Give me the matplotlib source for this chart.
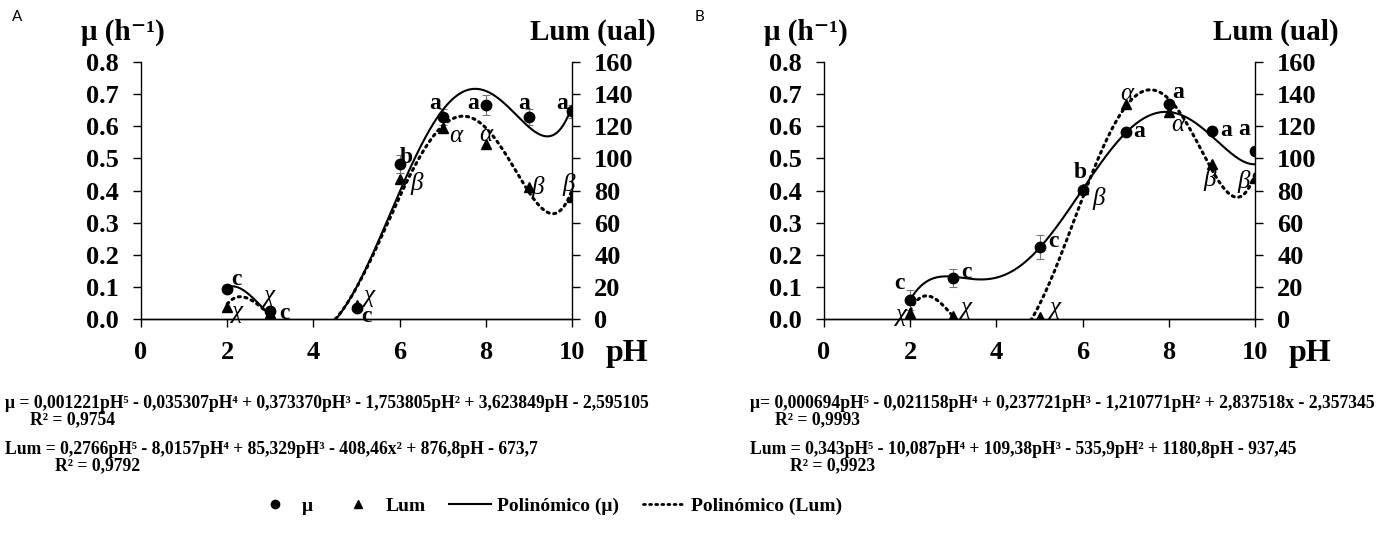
import numpy as np
import matplotlib
matplotlib.use("Agg")
from matplotlib import pyplot as plt
from matplotlib.lines import Line2D

SERIF = ['Liberation Serif', 'DejaVu Serif']
plt.rcParams['font.family'] = SERIF
plt.rcParams['font.weight'] = 'bold'

# ---- data, panel A ----
ph_A = [2, 3, 5, 6, 7, 8, 9, 10]
mu_A = [0.093, 0.026, 0.034, 0.482, 0.628, 0.666, 0.628, 0.646]
mu_err_A = [0.01, 0.01, 0.01, 0.027, 0.025, 0.03, 0.025, 0.02]
lum_A = [7.7, 4.0, 8.7, 87.0, 118.7, 109.0, 82.0, 76.0]
mu_let_A = ['c', 'c', 'c', 'b', 'a', 'a', 'a', 'a']
lum_let_A = ['χ', 'χ', 'χ', 'β', 'α', 'α', 'β', 'β']
# trendline coefficients printed on the chart (highest power first)
mu_poly_A = [0.001221, -0.035307, 0.373370, -1.753805, 3.623849, -2.595105]
lum_poly_A = [0.2766, -8.0157, 85.329, -408.46, 876.8, -673.7]

# ---- data, panel B ----
ph_B = [2, 3, 5, 6, 7, 8, 9, 10]
mu_B = [0.059, 0.127, 0.225, 0.402, 0.583, 0.669, 0.586, 0.524]
mu_err_B = [0.03, 0.028, 0.038, 0.01, 0.01, 0.01, 0.01, 0.01]
lum_B = [3.5, 2.0, 1.0, 81.0, 134.0, 129.0, 96.5, 88.0]
mu_let_B = ['c', 'c', 'c', 'b', 'a', 'a', 'a', 'a']
lum_let_B = ['χ', 'χ', 'χ', 'β', 'α', 'α', 'β', 'β']
mu_poly_B = [0.000694, -0.021158, 0.237721, -1.210771, 2.837518, -2.357345]
lum_poly_B = [0.343, -10.087, 109.38, -535.9, 1180.8, -937.45]

eq_A = ['μ = 0,001221pH⁵ - 0,035307pH⁴ + 0,373370pH³ - 1,753805pH² + 3,623849pH - 2,595105',
        'R² = 0,9754',
        'Lum = 0,2766pH⁵ - 8,0157pH⁴ + 85,329pH³ - 408,46x² + 876,8pH - 673,7',
        'R² = 0,9792']
eq_B = ['μ= 0,000694pH⁵ - 0,021158pH⁴ + 0,237721pH³ - 1,210771pH² + 2,837518x - 2,357345',
        'R² = 0,9993',
        'Lum = 0,343pH⁵ - 10,087pH⁴ + 109,38pH³ - 535,9pH² + 1180,8pH - 937,45',
        'R² = 0,9923']

# label offsets in pixels (dx, dy)
mu_off_A = [(9, 10), (14, -3), (10, -8), (7, 7), (-8, 14), (-13, 2), (-5, 14), (-10, 8)]
lum_off_A = [(10, -5), (-1, 17), (13, 9), (17, -4), (13, -8), (0, 9), (9, 0), (-3, 12)]
mu_off_B = [(-11, 17), (13, 6), (14, 5), (-2, 17), (13, 0), (9, 12), (14, 0), (-11, 21)]
lum_off_B = [(-9, -2), (13, 8), (16, 9), (16, -10), (1, 10), (9, -13), (-2, -16), (-11, -4)]

W, H = 1385, 533
fig = plt.figure(figsize=(W / 100, H / 100), dpi=100)


def panel(left, ph, mu, err, lum, mu_let, lum_let, mu_poly, lum_poly, mu_off, lum_off, tag):
    ax = fig.add_axes([left / W, 1 - 319 / H, 431 / W, 257 / H])
    ax2 = ax.twinx()
    xs = np.linspace(2, 10, 400)
    ax.plot(xs, np.polyval(mu_poly, xs), color='black', lw=1.5, zorder=3)
    ax.errorbar(ph, mu, yerr=err, fmt='none', ecolor='#777777', elinewidth=0.8,
                capsize=3, capthick=0.8, zorder=2)
    ax.plot(ph, mu, 'o', color='black', ms=7.5, zorder=4)
    ax2.plot(xs, np.polyval(lum_poly, xs), color='black', lw=2.2,
             linestyle=(0, (0.7, 1.5)), dash_capstyle='round', zorder=3)
    ax2.plot(ph, lum, '^', color='black', ms=7.5, zorder=4)

    for x, y, t, o in zip(ph, mu, mu_let, mu_off):
        ax.annotate(t, (x, y), xytext=o, textcoords='offset pixels', ha='center',
                    va='center', fontsize=17, fontweight='bold', zorder=6)
    for x, y, t, o in zip(ph, lum, lum_let, lum_off):
        ax2.annotate(t, (x, y), xytext=o, textcoords='offset pixels', ha='center',
                     va='center', fontsize=18, fontstyle='italic', fontweight='normal', zorder=6)

    ax.set_xlim(0, 10)
    ax.set_ylim(0, 0.8)
    ax2.set_ylim(0, 160)
    ax.set_xticks(range(0, 11, 2))
    ax.set_yticks(np.arange(0, 0.81, 0.1))
    ax.set_yticklabels(['%.1f' % v for v in np.arange(0, 0.81, 0.1)])
    ax2.set_yticks(range(0, 161, 20))
    for a in (ax, ax2):
        a.spines['top'].set_visible(False)
        for s in a.spines.values():
            s.set_linewidth(1.0)
    ax2.spines['left'].set_visible(False)
    ax.spines['right'].set_visible(False)
    ax.tick_params(axis='x', direction='out', length=6, width=1, pad=10, labelsize=19)
    ax.tick_params(axis='y', direction='out', length=6, width=1, pad=10, labelsize=19)
    ax2.tick_params(axis='y', direction='out', length=6, width=1, pad=10, labelsize=19)
    for lab in ax.get_xticklabels() + ax.get_yticklabels() + ax2.get_yticklabels():
        lab.set_fontweight('bold')

    fig.text((left - 18) / W, 1 - 32 / H, 'μ (h⁻¹)', ha='center', va='center',
             fontsize=21, fontweight='bold')
    fig.text((left + 452) / W, 1 - 32 / H, 'Lum (ual)', ha='center', va='center',
             fontsize=21, fontweight='bold')
    fig.text((left + 486) / W, 1 - 354 / H, 'pH', ha='center', va='center',
             fontsize=23, fontweight='bold')
    fig.text((left - 124) / W, 1 - 17 / H, tag, ha='center', va='center',
             fontsize=11, fontweight='normal', family=['Lato', 'DejaVu Sans'])
    return ax, ax2


panel(141, ph_A, mu_A, mu_err_A, lum_A, mu_let_A, lum_let_A, mu_poly_A, lum_poly_A,
      mu_off_A, lum_off_A, 'A')
panel(824, ph_B, mu_B, mu_err_B, lum_B, mu_let_B, lum_let_B, mu_poly_B, lum_poly_B,
      mu_off_B, lum_off_B, 'B')

# trendline equations
eq_fs = 12.7
fig.text(5 / W, 1 - 403 / H, eq_A[0], va='center', fontsize=eq_fs, fontweight='bold')
fig.text(30 / W, 1 - 420 / H, eq_A[1], va='center', fontsize=eq_fs, fontweight='bold')
fig.text(5 / W, 1 - 450 / H, eq_A[2], va='center', fontsize=eq_fs, fontweight='bold')
fig.text(55 / W, 1 - 466 / H, eq_A[3], va='center', fontsize=eq_fs, fontweight='bold')
fig.text(750 / W, 1 - 403 / H, eq_B[0], va='center', fontsize=eq_fs, fontweight='bold')
fig.text(775 / W, 1 - 420 / H, eq_B[1], va='center', fontsize=eq_fs, fontweight='bold')
fig.text(750 / W, 1 - 450 / H, eq_B[2], va='center', fontsize=eq_fs, fontweight='bold')
fig.text(790 / W, 1 - 466 / H, eq_B[3], va='center', fontsize=eq_fs, fontweight='bold')

handles = [Line2D([], [], marker='o', color='black', ls='none', ms=6),
           Line2D([], [], marker='^', color='black', ls='none', ms=6),
           Line2D([], [], color='black', lw=1.5),
           Line2D([], [], color='black', lw=2, linestyle=(0, (0.7, 1.5)), dash_capstyle='round')]
fig.legend(handles, ['μ', 'Lum', 'Polinómico (μ)', 'Polinómico (Lum)'], ncol=4,
           loc='center', bbox_to_anchor=(548 / W, 1 - 506 / H), frameon=False,
           prop={'family': SERIF, 'weight': 'bold', 'size': 14},
           handlelength=2.2, handletextpad=0.3, columnspacing=1.2)

fig.savefig('out.png', dpi=100)
